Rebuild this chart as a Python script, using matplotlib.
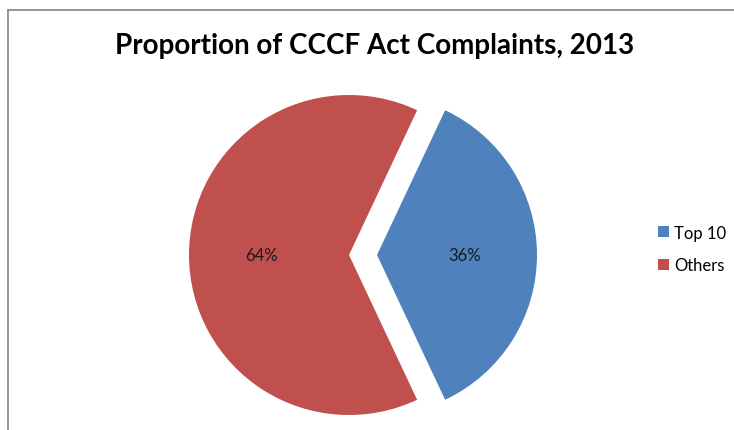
import matplotlib
matplotlib.use("Agg")
import matplotlib.pyplot as plt
from matplotlib.lines import Line2D
from matplotlib.patches import Patch

# Chart data
categories = ["Top 10", "Others"]
shares = [36, 64]
colors = ["#4F81BD", "#C0504D"]
title = "Proportion of CCCF Act Complaints, 2013"

FONT = ["Lato", "DejaVu Sans"]

W, H = 734, 431
fig = plt.figure(figsize=(W / 100, H / 100), dpi=100)
ax = fig.add_axes([0, 0, 1, 1])
ax.set_xlim(0, W)
ax.set_ylim(0, H)
ax.set_aspect("equal")
ax.axis("off")

# Pie drawn in pixel units; the first slice is pulled out to the right
wedges, texts, autotexts = ax.pie(
    shares,
    colors=colors,
    center=(349, H - 256),
    radius=160,
    explode=[28, 0],
    startangle=360 * shares[0] / sum(shares) / 2,
    counterclock=False,
    autopct="%1.0f%%",
    pctdistance=0.55,
    wedgeprops=dict(linewidth=0),
    textprops=dict(fontsize=12, color="#1a1a1a", family=FONT),
)
ax.set_xlim(0, W)
ax.set_ylim(0, H)

# Chart-area border (left and top edges)
ax.add_line(Line2D([8, 8], [0, H - 11], color="#8c8c8c", lw=1.3))
ax.add_line(Line2D([8, W], [H - 11, H - 11], color="#8c8c8c", lw=1.3))

fig.text(375 / W, 1 - 46 / H, title, ha="center", va="center",
         fontsize=20, fontweight="bold", family=FONT, color="#000000")

handles = [Patch(facecolor=c, edgecolor="none") for c in colors]
leg = fig.legend(handles, categories, loc="center left",
                 bbox_to_anchor=(643 / W, 1 - 250 / H), frameon=False,
                 handlelength=0.65, handleheight=0.65, handletextpad=0.3,
                 labelspacing=1.0,
                 prop=dict(family=FONT, size=12))

fig.savefig("out.png", dpi=100)
